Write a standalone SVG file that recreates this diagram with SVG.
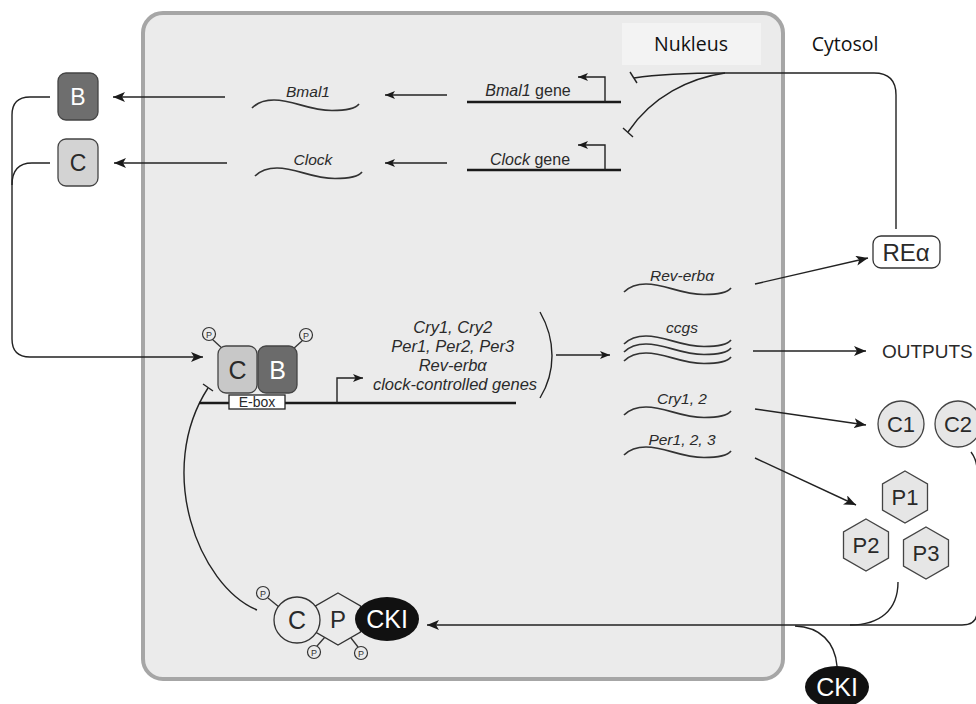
<svg xmlns="http://www.w3.org/2000/svg" width="976" height="704" viewBox="0 0 976 704">
<style>
.ln{fill:none;stroke:#222;stroke-width:1.4}
.dna{fill:none;stroke:#1a1a1a;stroke-width:2.6}
.wave{fill:none;stroke:#333;stroke-width:1.7}
.t{font-family:"Liberation Sans",Arial,sans-serif;fill:#2a2a2a}
.it{font-style:italic}
.lab{font-family:"Open Sans","Noto Sans",sans-serif;fill:#111;font-size:19.5px}
.pc{fill:#ebebeb;stroke:#333;stroke-width:1.2}
.pt{font-family:"Liberation Sans",Arial,sans-serif;font-size:9px;fill:#333;text-anchor:middle}
.prot{fill:#e6e6e6;stroke:#444;stroke-width:1.3}
</style>
<defs>
<marker id="ah" viewBox="0 0 12 10" refX="12" refY="5" markerWidth="12" markerHeight="10" markerUnits="userSpaceOnUse" orient="auto"><path d="M0,0 L12,5 L0,10 L3,5 z" fill="#1a1a1a"/></marker>
<marker id="ahs" viewBox="0 0 10 8" refX="10" refY="4" markerWidth="10" markerHeight="8" markerUnits="userSpaceOnUse" orient="auto"><path d="M0,0 L10,4 L0,8 L2.5,4 z" fill="#1a1a1a"/></marker>
<path id="w" d="M0,0 C6,-6 12,-8 22,-8 C42,-8 56,2.5 80,2.5 C95,2.5 104,0 107,-4"/>
<polygon id="hex" points="0,-26 22.5,-13 22.5,13 0,26 -22.5,13 -22.5,-13"/>
</defs>

<rect width="976" height="704" fill="#fff"/>

<g id="nucleus">
<rect x="143" y="13" width="640" height="666" rx="20" fill="#ebebeb" stroke="#a6a6a6" stroke-width="4"/>
<rect x="622" y="23" width="139" height="42" fill="#f3f3f3"/>
<text class="lab" x="691" y="51" text-anchor="middle">Nukleus</text>
</g>
<g id="cytosol-label">
<text class="lab" x="845" y="51" text-anchor="middle">Cytosol</text>
</g>

<g id="connectors">
<path class="ln" d="M50,97 H30 Q12,97 12,115 V339 Q12,357 30,357 H203" marker-end="url(#ah)"/>
<path class="ln" d="M50,163 H32 Q12,163 12,185"/>
<line class="ln" x1="225" y1="97" x2="113" y2="97" marker-end="url(#ah)"/>
<line class="ln" x1="227" y1="163" x2="114" y2="163" marker-end="url(#ah)"/>
<line class="ln" x1="447" y1="95" x2="385" y2="95" marker-end="url(#ahs)"/>
<line class="ln" x1="447" y1="163" x2="385" y2="163" marker-end="url(#ahs)"/>
<path class="ln" d="M896,229 V95 Q896,73 874,73 H725 C690,73 660,74 634,78"/>
<line class="ln" x1="630" y1="72" x2="637" y2="83"/>
<path class="ln" d="M725,73 C690,78 652,96 628,132"/>
<line class="ln" x1="623" y1="128" x2="633" y2="137"/>
<line class="ln" x1="556" y1="355" x2="610" y2="355" marker-end="url(#ahs)"/>
<line class="ln" x1="755" y1="284" x2="868" y2="258" marker-end="url(#ah)"/>
<line class="ln" x1="753" y1="351" x2="866" y2="351" marker-end="url(#ah)"/>
<line class="ln" x1="755" y1="409" x2="866" y2="425" marker-end="url(#ah)"/>
<line class="ln" x1="755" y1="458" x2="856" y2="505" marker-end="url(#ah)"/>
<path class="ln" d="M971,452 Q977,460 977,470 V612 Q977,625 962,625 H427" marker-end="url(#ah)" stroke-width="1.6"/>
<path class="ln" d="M898,582 C898,610 880,625 850,625"/>
<path class="ln" d="M837,666 C835,642 820,627 795,626"/>
<path class="ln" d="M257,610 C198,585 155,470 208,388"/>
<line class="ln" x1="203" y1="384" x2="213" y2="391"/>
</g>

<g id="B-protein">
<rect x="58" y="73" width="40" height="47" rx="8" fill="#6e6e6e" stroke="#444" stroke-width="1.3"/>
<text class="t" x="78" y="105" font-size="23" text-anchor="middle" style="fill:#fff">B</text>
</g>
<g id="C-protein">
<rect x="58" y="139" width="40" height="47" rx="8" fill="#d3d3d3" stroke="#444" stroke-width="1.3"/>
<text class="t" x="78" y="171" font-size="23" text-anchor="middle">C</text>
</g>

<g id="Bmal1-mRNA">
<use href="#w" class="wave" x="252" y="108"/>
<text class="t it" x="308" y="97" font-size="15.5" text-anchor="middle">Bmal1</text>
</g>
<g id="Clock-mRNA">
<use href="#w" class="wave" x="255" y="176"/>
<text class="t it" x="313" y="165" font-size="15.5" text-anchor="middle">Clock</text>
</g>

<g id="Bmal1-gene">
<line class="dna" x1="467" y1="102" x2="621" y2="102"/>
<path class="ln" d="M605,102 V77 H578" stroke-width="2.2" marker-end="url(#ahs)"/>
<text class="t" x="528" y="96" font-size="16" text-anchor="middle"><tspan class="it">Bmal1</tspan> gene</text>
</g>
<g id="Clock-gene">
<line class="dna" x1="467" y1="170" x2="621" y2="170"/>
<path class="ln" d="M605,170 V145 H578" stroke-width="2.2" marker-end="url(#ahs)"/>
<text class="t" x="530" y="165" font-size="16" text-anchor="middle"><tspan class="it">Clock</tspan> gene</text>
</g>

<g id="CB-complex">
<line class="dna" x1="199" y1="403" x2="516" y2="403"/>
<line x1="212" y1="339" x2="224" y2="350" stroke="#333" stroke-width="1.3"/>
<line x1="303" y1="340" x2="292" y2="350" stroke="#333" stroke-width="1.3"/>
<circle class="pc" cx="209" cy="334" r="6.5"/>
<text class="pt" x="209" y="337.5">P</text>
<circle class="pc" cx="306" cy="335" r="6.5"/>
<text class="pt" x="306" y="338.5">P</text>
<rect x="218" y="346" width="39" height="47" rx="8" fill="#c8c8c8" stroke="#444" stroke-width="1.3"/>
<rect x="258" y="346" width="39" height="47" rx="8" fill="#6b6b6b" stroke="#444" stroke-width="1.3"/>
<text class="t" x="237.5" y="379" font-size="25" text-anchor="middle">C</text>
<text class="t" x="277.5" y="379" font-size="25" text-anchor="middle" style="fill:#fff">B</text>
<rect x="229" y="395" width="56" height="14" fill="#fff" stroke="#222" stroke-width="1.3"/>
<text class="t" x="257" y="407" font-size="14" text-anchor="middle">E-box</text>
<path class="ln" d="M337,403 V378 H363" stroke-width="2" marker-end="url(#ahs)"/>
</g>

<g id="target-genes">
<text class="t it" font-size="16.5" text-anchor="middle">
<tspan x="455" y="333">Cry1, Cry2</tspan>
<tspan x="455" y="352">Per1, Per2, Per3</tspan>
<tspan x="455" y="371">Rev-erbα</tspan>
<tspan x="455" y="390">clock-controlled genes</tspan>
</text>
<path class="ln" d="M540,312 C556,340 556,372 540,398" stroke-width="1.6"/>
</g>

<g id="Reverb-mRNA">
<use href="#w" class="wave" x="624" y="292"/>
<text class="t it" x="682" y="281" font-size="15.5" text-anchor="middle">Rev-erbα</text>
</g>
<g id="ccgs-mRNA">
<use href="#w" class="wave" x="624" y="344"/>
<use href="#w" class="wave" x="624" y="352"/>
<use href="#w" class="wave" x="624" y="361"/>
<text class="t it" x="682" y="333" font-size="15.5" text-anchor="middle">ccgs</text>
</g>
<g id="Cry-mRNA">
<use href="#w" class="wave" x="624" y="415"/>
<text class="t it" x="682" y="404" font-size="15.5" text-anchor="middle">Cry1, 2</text>
</g>
<g id="Per-mRNA">
<use href="#w" class="wave" x="624" y="455"/>
<text class="t it" x="682" y="445" font-size="15.5" text-anchor="middle">Per1, 2, 3</text>
</g>

<g id="REa">
<rect x="873" y="236" width="67" height="32" rx="8" fill="#fff" stroke="#333" stroke-width="1.3"/>
<text class="t" x="906" y="261" font-size="24" text-anchor="middle">REα</text>
</g>
<g id="outputs">
<text class="t" x="882" y="358" font-size="19">OUTPUTS</text>
</g>
<g id="C1">
<circle class="prot" cx="901" cy="424" r="23"/>
<text class="t" x="901" y="432" font-size="22" text-anchor="middle">C1</text>
</g>
<g id="C2">
<circle class="prot" cx="958" cy="424" r="23"/>
<text class="t" x="958" y="432" font-size="22" text-anchor="middle">C2</text>
</g>
<g id="P1">
<use href="#hex" class="prot" x="905" y="497"/>
<text class="t" x="905" y="505" font-size="22" text-anchor="middle">P1</text>
</g>
<g id="P2">
<use href="#hex" class="prot" x="866" y="545"/>
<text class="t" x="866" y="553" font-size="22" text-anchor="middle">P2</text>
</g>
<g id="P3">
<use href="#hex" class="prot" x="926" y="553"/>
<text class="t" x="926" y="561" font-size="22" text-anchor="middle">P3</text>
</g>

<g id="CKI-cytosol">
<ellipse cx="837" cy="687" rx="32" ry="21" fill="#111"/>
<text class="t" x="837" y="696" font-size="25" text-anchor="middle" style="fill:#fff">CKI</text>
</g>

<g id="CPCKI-complex">
<line x1="268" y1="598" x2="279" y2="607" stroke="#333" stroke-width="1.3"/>
<line x1="317" y1="646" x2="325" y2="637" stroke="#333" stroke-width="1.3"/>
<line x1="358" y1="647" x2="351" y2="638" stroke="#333" stroke-width="1.3"/>
<use href="#hex" x="338" y="619" fill="#ebebeb" stroke="#333" stroke-width="1.3"/>
<circle cx="297" cy="620" r="23" fill="#ebebeb" stroke="#333" stroke-width="1.3"/>
<ellipse cx="387" cy="619" rx="32" ry="22" fill="#111"/>
<text class="t" x="297" y="629" font-size="25" text-anchor="middle">C</text>
<text class="t" x="338" y="628" font-size="24" text-anchor="middle">P</text>
<text class="t" x="387" y="628" font-size="25" text-anchor="middle" style="fill:#fff">CKI</text>
<circle class="pc" cx="263" cy="593" r="6.5"/>
<text class="pt" x="263" y="596.5">P</text>
<circle class="pc" cx="314" cy="652" r="6.5"/>
<text class="pt" x="314" y="655.5">P</text>
<circle class="pc" cx="361" cy="653" r="6.5"/>
<text class="pt" x="361" y="656.5">P</text>
</g>
</svg>
